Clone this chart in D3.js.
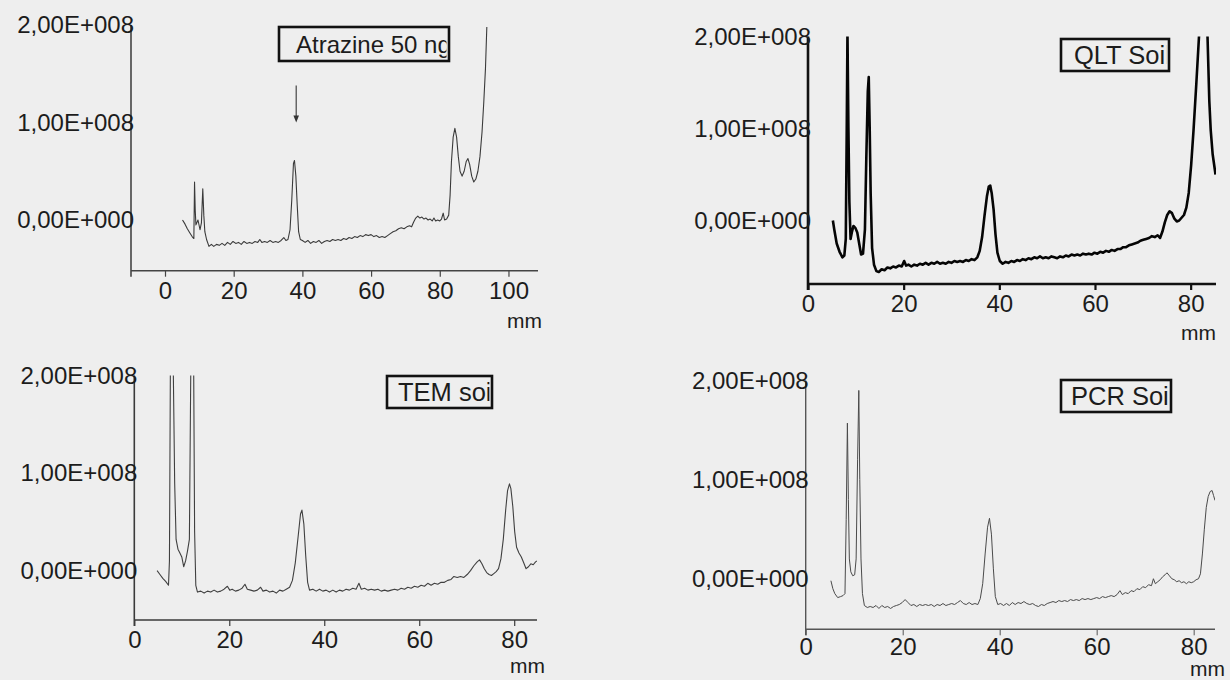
<!DOCTYPE html>
<html><head><meta charset="utf-8">
<script src="https://cdn.jsdelivr.net/npm/d3@7/dist/d3.min.js"></script>
<style>
html,body{margin:0;padding:0;background:#eeeeee;}
svg{display:block;}
text{font-family:"Liberation Sans",Arial,sans-serif;fill:#1c1c1c;}
</style></head>
<body>
<svg id="chart" width="1230" height="680"></svg>
<script>
// ---------- DATA (x in mm, y in units of 1E+008) ----------
const yTickValues = [0, 1, 2];
const yTickLabels = ["0,00E+000", "1,00E+008", "2,00E+008"];
const xTicksA = [0, 20, 40, 60, 80, 100];
const xTicksOther = [0, 20, 40, 60, 80];
const xUnit = "mm";
const titles = ["Atrazine 50 ng", "QLT Soil", "TEM soil", "PCR Soil"];
const arrowA = {x: 38.2, yFrom: 1.38, yTo: 1.0};

const atrazine = [[5.1,0.00],[5.8,-0.04],[6.5,-0.09],[7.2,-0.13],[7.9,-0.17],[8.4,-0.19],[8.6,0.39],[8.8,0.10],[9.0,-0.05],[9.6,0.00],[10.2,-0.10],[10.6,-0.03],[11.0,0.32],[11.3,0.05],[11.6,-0.12],[12.1,-0.20],[12.8,-0.27],[13.5,-0.25],[14.2,-0.27],[15.0,-0.25],[15.8,-0.26],[16.6,-0.24],[17.4,-0.26],[18.2,-0.23],[19.0,-0.25],[19.8,-0.22],[20.6,-0.24],[21.4,-0.23],[22.2,-0.25],[23.0,-0.22],[23.8,-0.24],[24.6,-0.23],[25.4,-0.24],[26.2,-0.22],[27.0,-0.23],[27.6,-0.20],[28.2,-0.23],[29.0,-0.22],[29.8,-0.23],[30.6,-0.21],[31.4,-0.23],[32.2,-0.22],[33.0,-0.23],[33.8,-0.21],[34.6,-0.18],[35.2,-0.21],[35.8,-0.20],[36.4,-0.10],[36.9,0.20],[37.4,0.58],[37.7,0.61],[38.1,0.45],[38.5,0.15],[38.9,-0.12],[39.4,-0.20],[40.0,-0.21],[40.8,-0.23],[41.6,-0.21],[42.4,-0.24],[43.2,-0.22],[44.0,-0.23],[44.8,-0.21],[45.6,-0.24],[46.4,-0.22],[47.2,-0.21],[48.0,-0.22],[48.8,-0.20],[49.6,-0.21],[50.4,-0.20],[51.2,-0.21],[52.0,-0.19],[52.8,-0.20],[53.6,-0.18],[54.4,-0.19],[55.2,-0.17],[56.0,-0.18],[56.8,-0.16],[57.6,-0.17],[58.4,-0.15],[59.2,-0.16],[60.0,-0.15],[60.8,-0.17],[61.6,-0.16],[62.4,-0.18],[63.2,-0.17],[64.0,-0.18],[64.8,-0.16],[65.6,-0.14],[66.4,-0.12],[67.2,-0.11],[68.0,-0.09],[68.8,-0.08],[69.6,-0.09],[70.4,-0.07],[71.2,-0.06],[71.8,-0.07],[72.4,-0.02],[73.0,0.02],[73.6,0.04],[74.2,0.02],[74.8,0.03],[75.4,0.01],[76.0,0.02],[76.6,0.00],[77.2,0.01],[77.8,-0.01],[78.3,0.02],[78.8,-0.01],[79.4,0.00],[80.0,-0.01],[80.5,0.01],[81.0,0.07],[81.4,0.00],[82.0,0.01],[82.6,0.05],[83.0,0.25],[83.4,0.60],[83.9,0.85],[84.4,0.94],[84.9,0.85],[85.4,0.65],[85.9,0.50],[86.5,0.45],[87.1,0.50],[87.7,0.60],[88.2,0.63],[88.7,0.57],[89.3,0.45],[89.9,0.39],[90.5,0.42],[91.1,0.50],[91.7,0.65],[92.3,0.90],[92.8,1.20],[93.3,1.55],[93.7,1.98]];

const qltSoil = [[5.2,0.00],[5.5,-0.10],[6.0,-0.25],[6.6,-0.34],[7.2,-0.40],[7.6,-0.38],[7.9,-0.20],[8.1,1.00],[8.25,2.05],[8.45,1.00],[8.65,0.20],[8.9,-0.20],[9.2,-0.12],[9.5,-0.06],[9.9,-0.08],[10.3,-0.13],[10.7,-0.25],[11.1,-0.37],[11.5,-0.36],[11.9,-0.10],[12.2,0.70],[12.5,1.40],[12.7,1.56],[12.9,1.00],[13.1,0.30],[13.4,-0.30],[13.8,-0.48],[14.3,-0.55],[14.8,-0.56],[15.4,-0.53],[16.0,-0.54],[16.6,-0.51],[17.2,-0.52],[17.8,-0.50],[18.4,-0.51],[19.0,-0.49],[19.6,-0.50],[20.1,-0.44],[20.5,-0.49],[21.0,-0.48],[21.6,-0.50],[22.2,-0.48],[22.8,-0.49],[23.4,-0.47],[24.0,-0.48],[24.6,-0.46],[25.2,-0.48],[25.8,-0.46],[26.4,-0.47],[27.0,-0.45],[27.6,-0.47],[28.2,-0.46],[28.8,-0.47],[29.4,-0.45],[30.0,-0.46],[30.6,-0.44],[31.2,-0.45],[31.8,-0.44],[32.4,-0.45],[33.0,-0.43],[33.6,-0.44],[34.2,-0.42],[34.8,-0.43],[35.4,-0.40],[35.9,-0.33],[36.4,-0.18],[36.9,0.05],[37.4,0.26],[37.8,0.37],[38.1,0.38],[38.4,0.30],[38.8,0.12],[39.2,-0.15],[39.6,-0.35],[40.1,-0.44],[40.7,-0.47],[41.3,-0.45],[41.9,-0.46],[42.5,-0.44],[43.1,-0.45],[43.7,-0.43],[44.3,-0.44],[44.9,-0.42],[45.5,-0.43],[46.1,-0.41],[46.7,-0.42],[47.3,-0.40],[47.9,-0.41],[48.5,-0.39],[49.1,-0.41],[49.7,-0.40],[50.3,-0.41],[50.9,-0.39],[51.5,-0.40],[52.1,-0.41],[52.7,-0.39],[53.3,-0.40],[53.9,-0.38],[54.5,-0.39],[55.1,-0.37],[55.7,-0.38],[56.3,-0.37],[56.9,-0.38],[57.5,-0.36],[58.1,-0.37],[58.7,-0.36],[59.3,-0.37],[59.9,-0.35],[60.5,-0.36],[61.1,-0.34],[61.7,-0.35],[62.3,-0.33],[62.9,-0.34],[63.5,-0.32],[64.1,-0.33],[64.7,-0.31],[65.3,-0.31],[65.9,-0.29],[66.5,-0.29],[67.1,-0.27],[67.7,-0.26],[68.3,-0.25],[68.9,-0.24],[69.5,-0.22],[70.1,-0.21],[70.7,-0.20],[71.3,-0.19],[71.9,-0.17],[72.5,-0.18],[73.1,-0.16],[73.6,-0.19],[74.1,-0.12],[74.6,-0.02],[75.1,0.06],[75.6,0.10],[76.1,0.08],[76.6,0.02],[77.1,-0.01],[77.6,0.00],[78.1,0.03],[78.6,0.06],[79.1,0.14],[79.6,0.30],[80.1,0.60],[80.6,0.98],[81.2,1.50],[81.8,2.05],[83.5,2.05],[83.9,1.30],[84.2,0.98],[84.6,0.72],[85.2,0.50]];

const temSoil = [[4.8,0.00],[5.4,-0.04],[6.0,-0.08],[6.6,-0.11],[7.2,-0.15],[7.4,0.10],[7.6,2.10],[8.2,2.10],[8.5,0.90],[8.8,0.32],[9.2,0.22],[9.6,0.18],[10.0,0.14],[10.4,0.04],[10.8,0.10],[11.2,0.20],[11.6,0.32],[11.9,2.10],[12.5,2.10],[12.7,0.40],[12.95,-0.15],[13.3,-0.22],[14.0,-0.21],[14.7,-0.23],[15.4,-0.21],[16.1,-0.22],[16.8,-0.20],[17.5,-0.22],[18.2,-0.21],[18.9,-0.19],[19.6,-0.16],[20.1,-0.20],[20.6,-0.19],[21.3,-0.21],[22.0,-0.20],[22.7,-0.18],[23.3,-0.14],[23.8,-0.19],[24.5,-0.20],[25.2,-0.21],[25.9,-0.20],[26.6,-0.17],[27.1,-0.21],[27.8,-0.20],[28.5,-0.22],[29.2,-0.21],[29.9,-0.23],[30.6,-0.20],[31.3,-0.21],[32.0,-0.19],[32.7,-0.17],[33.3,-0.10],[33.9,0.08],[34.5,0.35],[35.0,0.58],[35.3,0.62],[35.7,0.48],[36.1,0.15],[36.5,-0.12],[36.9,-0.20],[37.6,-0.19],[38.3,-0.21],[39.0,-0.19],[39.7,-0.21],[40.4,-0.20],[41.1,-0.22],[41.8,-0.20],[42.5,-0.22],[43.2,-0.20],[43.9,-0.21],[44.6,-0.19],[45.3,-0.20],[46.0,-0.18],[46.7,-0.19],[47.3,-0.13],[47.8,-0.19],[48.5,-0.18],[49.2,-0.20],[49.9,-0.19],[50.6,-0.20],[51.3,-0.19],[52.0,-0.21],[52.7,-0.20],[53.4,-0.21],[54.1,-0.20],[54.8,-0.19],[55.5,-0.20],[56.2,-0.18],[56.9,-0.19],[57.6,-0.17],[58.3,-0.18],[59.0,-0.16],[59.7,-0.17],[60.4,-0.15],[61.1,-0.16],[61.8,-0.13],[62.5,-0.15],[63.2,-0.13],[63.9,-0.14],[64.6,-0.12],[65.3,-0.12],[66.0,-0.10],[66.7,-0.09],[67.3,-0.06],[68.0,-0.07],[68.7,-0.06],[69.4,-0.07],[70.1,-0.04],[70.8,0.00],[71.5,0.05],[72.2,0.09],[72.7,0.11],[73.2,0.07],[73.7,0.02],[74.2,-0.02],[74.7,-0.04],[75.2,-0.05],[75.7,-0.03],[76.2,-0.01],[76.7,0.02],[77.2,0.12],[77.7,0.32],[78.2,0.62],[78.6,0.82],[79.0,0.89],[79.3,0.84],[79.7,0.66],[80.1,0.40],[80.5,0.24],[81.0,0.18],[81.5,0.14],[82.0,0.08],[82.5,0.02],[83.0,0.04],[83.5,0.07],[84.0,0.06],[84.5,0.09],[84.8,0.10]];

const pcrSoil = [[5.2,-0.02],[5.6,-0.10],[6.0,-0.15],[6.6,-0.19],[7.2,-0.18],[7.7,-0.17],[8.1,-0.15],[8.35,0.60],[8.6,1.57],[8.8,0.80],[9.0,0.20],[9.3,0.07],[9.7,0.03],[10.1,0.04],[10.4,0.20],[10.7,1.20],[10.95,1.90],[11.15,1.00],[11.4,0.20],[11.7,-0.15],[12.1,-0.27],[12.7,-0.29],[13.3,-0.28],[13.9,-0.29],[14.5,-0.27],[15.1,-0.30],[15.7,-0.27],[16.3,-0.29],[16.9,-0.28],[17.5,-0.30],[18.1,-0.28],[18.7,-0.27],[19.3,-0.26],[19.9,-0.24],[20.5,-0.21],[21.1,-0.24],[21.7,-0.27],[22.3,-0.26],[22.9,-0.28],[23.5,-0.26],[24.1,-0.27],[24.7,-0.26],[25.3,-0.27],[25.9,-0.26],[26.5,-0.28],[27.1,-0.26],[27.7,-0.27],[28.3,-0.25],[28.9,-0.27],[29.5,-0.26],[30.1,-0.25],[30.7,-0.26],[31.3,-0.24],[31.9,-0.22],[32.5,-0.25],[33.1,-0.26],[33.7,-0.24],[34.3,-0.26],[34.9,-0.25],[35.5,-0.26],[36.0,-0.20],[36.5,-0.05],[37.0,0.25],[37.5,0.52],[37.9,0.61],[38.3,0.45],[38.7,0.10],[39.1,-0.18],[39.6,-0.26],[40.2,-0.25],[40.8,-0.27],[41.4,-0.25],[42.0,-0.27],[42.6,-0.24],[43.2,-0.26],[43.8,-0.24],[44.4,-0.25],[45.0,-0.23],[45.6,-0.25],[46.2,-0.26],[46.8,-0.25],[47.4,-0.27],[48.0,-0.28],[48.6,-0.26],[49.2,-0.27],[49.8,-0.25],[50.4,-0.24],[51.0,-0.23],[51.6,-0.24],[52.2,-0.22],[52.8,-0.23],[53.4,-0.22],[54.0,-0.23],[54.6,-0.21],[55.2,-0.22],[55.8,-0.21],[56.4,-0.22],[57.0,-0.20],[57.6,-0.21],[58.2,-0.20],[58.8,-0.21],[59.4,-0.20],[60.0,-0.19],[60.6,-0.20],[61.2,-0.18],[61.8,-0.19],[62.4,-0.18],[63.0,-0.17],[63.6,-0.18],[64.2,-0.16],[64.8,-0.12],[65.3,-0.16],[65.9,-0.14],[66.5,-0.15],[67.1,-0.12],[67.7,-0.13],[68.3,-0.10],[68.9,-0.11],[69.5,-0.08],[70.1,-0.09],[70.7,-0.06],[71.3,-0.07],[71.7,0.00],[72.1,-0.05],[72.6,-0.03],[73.1,-0.01],[73.6,0.02],[74.1,0.04],[74.5,0.06],[75.0,0.03],[75.5,0.00],[76.0,-0.01],[76.5,-0.03],[77.0,-0.02],[77.5,-0.04],[78.0,-0.03],[78.5,-0.05],[79.0,-0.03],[79.5,-0.04],[80.0,-0.03],[80.5,-0.01],[81.0,0.00],[81.4,0.05],[81.8,0.25],[82.2,0.50],[82.6,0.72],[83.0,0.83],[83.4,0.88],[83.8,0.89],[84.1,0.84],[84.4,0.79]];

// ---------- LAYOUT ----------
const panels = [
  {data: atrazine, title: titles[0], titleSize: 24, xTicks: xTicksA, xDomain: [-9.9, 108.6], xRange: [131, 538],
   yDomain: [-0.52, 2.0], yRange: [270.7, 25], lineW: 1.1, lineC: "#3a3a3a", axisW: 1.6, axisC: "#444",
   box: [279, 27, 170, 34], textX: 296, unitX: 507, unitY: 328, tickPad: 5, arrow: arrowA},
  {data: qltSoil, title: titles[1], titleSize: 25.5, xTicks: xTicksOther, xDomain: [0, 85.3], xRange: [808, 1216],
   yDomain: [-0.69, 2.0], yRange: [284, 36.5], lineW: 2.6, lineC: "#050505", axisW: 2.6, axisC: "#111",
   box: [1061, 39, 108, 32], textX: 1074, unitX: 1181, unitY: 340, tickPad: 5},
  {data: temSoil, title: titles[2], titleSize: 25.5, xTicks: xTicksOther, xDomain: [0, 84.8], xRange: [134.3, 537],
   yDomain: [-0.506, 2.0], yRange: [620, 375.5], lineW: 1.1, lineC: "#404040", axisW: 1.6, axisC: "#3a3a3a",
   box: [387, 376, 105, 32], textX: 398, unitX: 510, unitY: 673, tickPad: 5},
  {data: pcrSoil, title: titles[3], titleSize: 25.5, xTicks: xTicksOther, xDomain: [0, 84.4], xRange: [805.7, 1215],
   yDomain: [-0.51, 2.0], yRange: [629.3, 380.5], lineW: 1.0, lineC: "#4a4a4a", axisW: 1.4, axisC: "#555",
   box: [1061, 380, 110, 32], textX: 1071, unitX: 1190, unitY: 676, tickPad: 3}
];

const svg = d3.select("#chart");
const defs = svg.append("defs");

panels.forEach((p, i) => {
  const x = d3.scaleLinear().domain(p.xDomain).range(p.xRange);
  const y = d3.scaleLinear().domain(p.yDomain).range(p.yRange);
  const g = svg.append("g");

  // clip
  const cid = "clip" + i;
  defs.append("clipPath").attr("id", cid).append("rect")
    .attr("x", p.xRange[0]).attr("y", p.yRange[1])
    .attr("width", p.xRange[1] - p.xRange[0]).attr("height", p.yRange[0] - p.yRange[1]);

  // trace
  const line = d3.line().x(d => x(d[0])).y(d => y(d[1]));
  g.append("path").datum(p.data).attr("d", line).attr("clip-path", `url(#${cid})`)
    .attr("fill","none").attr("stroke", p.lineC).attr("stroke-width", p.lineW)
    .attr("stroke-linejoin","round");

  // x axis
  const xAxis = d3.axisBottom(x).tickValues(p.xTicks).tickSize(6).tickPadding(p.tickPad).tickFormat(d3.format("d"));
  const gx = g.append("g").attr("transform", `translate(0,${p.yRange[0]})`).call(xAxis);
  gx.select(".domain").attr("d", `M${p.xRange[0]},0H${p.xRange[1]}`)
    .attr("stroke", p.axisC).attr("stroke-width", p.axisW);
  gx.selectAll(".tick line").attr("stroke", p.axisC).attr("stroke-width", Math.max(1, p.axisW - 0.4));
  gx.selectAll(".tick text").style("font-size","24px").style("font-family","'Liberation Sans', Arial, sans-serif").attr("fill","#1c1c1c");

  // y axis
  const yAxis = d3.axisLeft(y).tickValues(yTickValues).tickSize(0).tickPadding(-3)
    .tickFormat((d, k) => yTickLabels[k]);
  const gy = g.append("g").attr("transform", `translate(${p.xRange[0]},0)`).call(yAxis);
  gy.select(".domain").attr("d", `M0,${p.yRange[0] + 6}V${p.yRange[1]}`)
    .attr("stroke", p.axisC).attr("stroke-width", p.axisW);
  gy.selectAll(".tick text").style("font-size","24px").style("font-family","'Liberation Sans', Arial, sans-serif").attr("fill","#1c1c1c");
  gy.raise();

  // unit
  g.append("text").attr("x", p.unitX).attr("y", p.unitY).text(xUnit).style("font-size","21px");

  // title box
  const [bx, by, bw, bh] = p.box;
  const tid = "tclip" + i;
  defs.append("clipPath").attr("id", tid).append("rect").attr("x", bx).attr("y", by).attr("width", bw - 2.5).attr("height", bh);
  g.append("text").attr("x", p.textX).attr("y", by + bh / 2 + 9).text(p.title)
    .style("font-size", p.titleSize + "px").attr("clip-path", `url(#${tid})`);
  g.append("rect").attr("x", bx).attr("y", by).attr("width", bw).attr("height", bh)
    .attr("fill","none").attr("stroke","#111").attr("stroke-width", 2.6);

  // arrow
  if (p.arrow) {
    const ax = x(p.arrow.x), y0 = y(p.arrow.yFrom), y1 = y(p.arrow.yTo);
    g.append("line").attr("x1", ax).attr("x2", ax).attr("y1", y0).attr("y2", y1 - 5)
      .attr("stroke","#444").attr("stroke-width",1.2);
    g.append("path").attr("d", `M${ax - 2.8},${y1 - 7}L${ax + 2.8},${y1 - 7}L${ax},${y1}Z`).attr("fill","#333");
  }
});
</script>
</body></html>
